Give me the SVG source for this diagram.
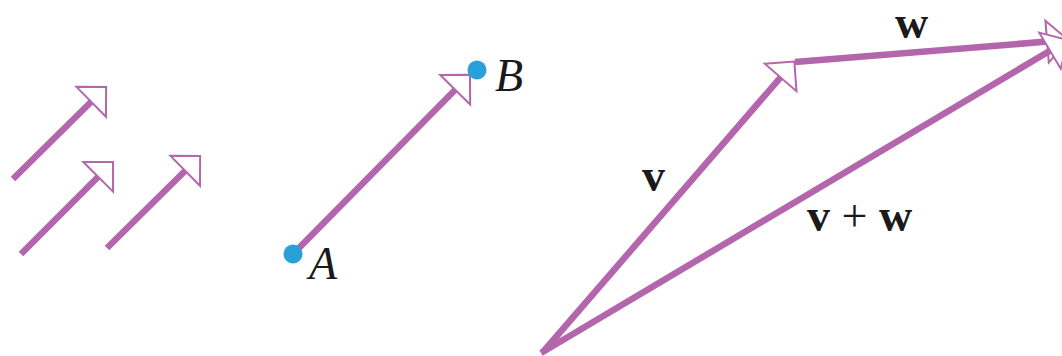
<svg xmlns="http://www.w3.org/2000/svg" width="1062" height="356" viewBox="0 0 1062 356">
  <style>
    .shaft { stroke: #b466ad; stroke-width: 6.5; fill: none; stroke-linecap: butt; }
    .dot { fill: #2aa0d9; }
    .pt { font-family: "Liberation Serif", "Times New Roman", serif; font-style: italic; font-size: 46px; fill: #1a1a1a; }
    .vec { font-family: "Liberation Serif", "Times New Roman", serif; font-weight: bold; font-size: 46px; fill: #1a1a1a; }
    .op { font-weight: normal; }
  </style>
  <defs>
    <marker id="head" markerUnits="userSpaceOnUse" viewBox="-2 -24 26 48" refX="0" refY="0" markerWidth="26" markerHeight="48" orient="auto" overflow="visible">
      <path d="M0,-21 L21,0 L0,21 Z" fill="#ffffff" stroke="#b466ad" stroke-width="2" stroke-linejoin="miter"/>
    </marker>
  </defs>
  <rect width="1062" height="356" fill="#ffffff"/>
  <g id="connectors">
    <line class="shaft" x1="13" y1="179" x2="91.2" y2="101.8" marker-end="url(#head)"/>
    <line class="shaft" x1="21" y1="254" x2="98.2" y2="176.8" marker-end="url(#head)"/>
    <line class="shaft" x1="107" y1="248" x2="185.2" y2="170.8" marker-end="url(#head)"/>
    <line class="shaft" x1="293" y1="254" x2="455.2" y2="89.8" marker-end="url(#head)"/>
    <line class="shaft" x1="543" y1="352" x2="780.6" y2="77.4" marker-end="url(#head)"/>
    <line class="shaft" x1="795" y1="62" x2="1047.1" y2="41.6" marker-end="url(#head)"/>
    <line class="shaft" x1="541" y1="353" x2="1050" y2="50.7" marker-end="url(#head)"/>
  </g>
  <g id="point-A">
    <circle class="dot" cx="293" cy="254" r="9.5"/>
    <text class="pt" x="309" y="279">A</text>
  </g>
  <g id="point-B">
    <circle class="dot" cx="477" cy="70" r="9.5"/>
    <text class="pt" x="495" y="91">B</text>
  </g>
  <g id="label-v">
    <text class="vec" x="642" y="191">v</text>
  </g>
  <g id="label-w">
    <text class="vec" x="895" y="38">w</text>
  </g>
  <g id="label-vw">
    <text class="vec" x="807" y="231">v<tspan class="op"> + </tspan>w</text>
  </g>
</svg>
